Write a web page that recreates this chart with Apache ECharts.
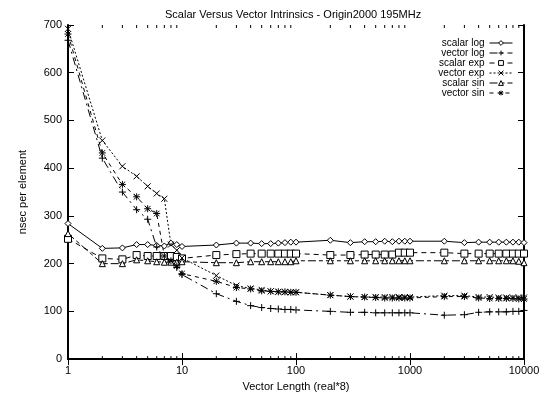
<!DOCTYPE html>
<html>
<head>
<meta charset="utf-8">
<script src="https://cdn.jsdelivr.net/npm/echarts@6/dist/echarts.min.js"></script>
<style>
  body { margin: 0; background: #fff; }
  #main { width: 550px; height: 397px; }
</style>
</head>
<body>
<div id="main"></div>
<script>
// vector lengths (x)
var lengths = [1, 2, 3, 4, 5, 6, 7, 8, 9, 10,
  20, 30, 40, 50, 60, 70, 80, 90, 100,
  200, 300, 400, 500, 600, 700, 800, 900, 1000,
  2000, 3000, 4000, 5000, 6000, 7000, 8000, 9000, 10000];

var scalarLog = [284, 232, 233, 240, 240, 238, 237, 243, 240, 236,
  239, 243, 243, 242, 242, 243, 244, 245, 245,
  249, 244, 246, 246, 247, 246, 247, 247, 247,
  247, 244, 245, 245, 245, 245, 245, 245, 244];
var vectorLog = [668, 421, 350, 313, 293, 235, 212, 204, 192, 177,
  137, 121, 112, 108, 106, 105, 104, 104, 103,
  100, 98, 98, 97, 97, 97, 97, 97, 97,
  92, 93, 98, 99, 99, 99, 100, 100, 102];
var scalarExp = [252, 211, 209, 218, 216, 216, 216, 216, 214, 211,
  218, 220, 221, 221, 221, 221, 221, 221, 221,
  218, 218, 219, 219, 219, 219, 223, 223, 223,
  223, 221, 221, 221, 221, 221, 221, 221, 221];
var vectorExp = [692, 458, 404, 383, 362, 347, 336, 240, 228, 212,
  175, 154, 148, 145, 142, 141, 140, 140, 140,
  134, 131, 130, 130, 130, 130, 130, 130, 130,
  133, 133, 130, 130, 129, 129, 129, 129, 129];
var scalarSin = [263, 200, 200, 208, 206, 204, 203, 203, 203, 204,
  202, 202, 204, 204, 204, 204, 204, 204, 206,
  206, 206, 206, 206, 206, 206, 206, 206, 206,
  206, 206, 206, 206, 206, 206, 206, 205, 202];
var vectorSin = [681, 432, 366, 340, 315, 305, 216, 206, 195, 179,
  163, 150, 147, 143, 142, 141, 141, 140, 140,
  134, 131, 130, 129, 128, 128, 128, 128, 128,
  131, 131, 128, 127, 127, 127, 127, 126, 126];

// minor log ticks
var minorTicks = [2, 3, 4, 5, 6, 7, 8, 9, 20, 30, 40, 50, 60, 70, 80, 90,
  200, 300, 400, 500, 600, 700, 800, 900, 2000, 3000, 4000, 5000, 6000, 7000, 8000, 9000];

var font = 'Liberation Sans';

function pairs(ys) {
  return lengths.map(function (x, i) { return [x, ys[i]]; });
}

function line(name, ys, symbol, dash, size) {
  return {
    name: name,
    type: 'line',
    data: pairs(ys),
    symbol: symbol,
    symbolSize: size || 6,
    showSymbol: true,
    lineStyle: { color: '#000', width: 1, type: dash },
    itemStyle: { color: '#fff', borderColor: '#000', borderWidth: 1 },
    emphasis: { disabled: true },
    animation: false
  };
}

var plusPath = 'path://M0,5L10,5M5,0L5,10';
var crossPath = 'path://M0,0L10,10M0,10L10,0';
var starPath = 'path://M0,5L10,5M5,0L5,10M1,1L9,9M1,9L9,1';

var logAxis = {
  type: 'log',
  logBase: 10,
  min: 1,
  max: 10000,
  axisLine: { lineStyle: { color: '#000', width: 2 } },
  axisTick: { inside: true, length: 6, lineStyle: { color: '#000' } },
  splitLine: { show: false }
};

var valAxis = {
  type: 'value',
  min: 0,
  max: 700,
  interval: 100,
  axisLine: { show: true, lineStyle: { color: '#000', width: 2 } },
  axisTick: { show: true, inside: true, length: 6, lineStyle: { color: '#000' } },
  splitLine: { show: false }
};

var myChart = echarts.init(document.getElementById('main'));
myChart.setOption({
  backgroundColor: '#fff',
  animation: false,
  title: {
    text: 'Scalar Versus Vector Intrinsics - Origin2000 195MHz',
    left: 160,
    top: 4,
    textStyle: { fontFamily: font, fontSize: 11, fontWeight: 'normal', color: '#000' }
  },
  legend: {
    data: ['scalar log', 'vector log', 'scalar exp', 'vector exp', 'scalar sin', 'vector sin'],
    orient: 'vertical',
    align: 'right',
    right: 32,
    top: 33,
    itemWidth: 23,
    itemHeight: 6,
    itemGap: 0,
    lineStyle: { width: 1 },
    itemStyle: { borderWidth: 1 },
    textStyle: { fontFamily: font, fontSize: 10, lineHeight: 10, color: '#000' }
  },
  grid: { left: 68, right: 26, top: 25, bottom: 36 },
  xAxis: [
    Object.assign({}, logAxis, {
      position: 'bottom',
      name: 'Vector Length (real*8)',
      nameLocation: 'middle',
      nameGap: 18,
      nameTextStyle: { fontFamily: font, fontSize: 11, color: '#000' },
      axisLabel: {
        fontFamily: font, fontSize: 11, color: '#000', margin: 6,
        formatter: function (v) { return String(Math.round(v)); }
      }
    }),
    Object.assign({}, logAxis, { position: 'top', axisLabel: { show: false } })
  ],
  yAxis: [
    Object.assign({}, valAxis, {
      position: 'left',
      name: 'nsec per element',
      nameLocation: 'middle',
      nameRotate: 90,
      nameGap: 40,
      nameTextStyle: { fontFamily: font, fontSize: 11, color: '#000' },
      axisLabel: { fontFamily: font, fontSize: 11, color: '#000', margin: 6 }
    }),
    Object.assign({}, valAxis, { position: 'right', axisLabel: { show: false } })
  ],
  series: [
    line('scalar log', scalarLog, 'diamond', 'solid', 6),
    line('vector log', vectorLog, plusPath, [8, 4, 2, 4], 7),
    line('scalar exp', scalarExp, 'rect', [5, 4], 7),
    line('vector exp', vectorExp, crossPath, [2, 2], 6),
    line('scalar sin', scalarSin, 'triangle', [8, 3, 4, 3], 6),
    line('vector sin', vectorSin, starPath, [4, 4], 7),
    {
      name: 'minor',
      type: 'custom',
      data: minorTicks.map(function (x) { return [x, 0]; }),
      encode: { x: 0, y: 1 },
      silent: true,
      animation: false,
      renderItem: function (params, api) {
        var b = api.coord([api.value(0), 0]);
        var t = api.coord([api.value(0), 700]);
        return {
          type: 'group',
          children: [
            { type: 'line', shape: { x1: b[0], y1: b[1], x2: b[0], y2: b[1] - 3 }, style: { stroke: '#000', lineWidth: 1 } },
            { type: 'line', shape: { x1: t[0], y1: t[1], x2: t[0], y2: t[1] + 3 }, style: { stroke: '#000', lineWidth: 1 } }
          ]
        };
      }
    }
  ]
});
</script>
</body>
</html>
